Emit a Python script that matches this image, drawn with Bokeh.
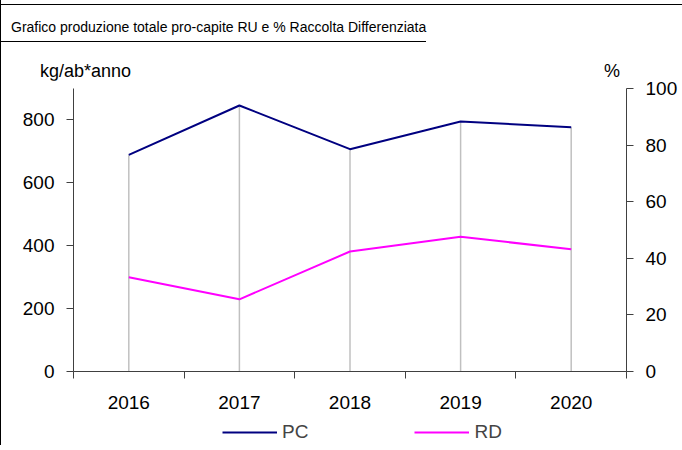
from bokeh.plotting import figure
from bokeh.models import (Range1d, LinearAxis, FixedTicker, Legend, LegendItem,
                          Div, ColumnDataSource)
from bokeh.layouts import column
from bokeh.embed import file_html
from bokeh.resources import INLINE

years = ["2016", "2017", "2018", "2019", "2020"]
pc = [689, 846, 707, 795, 777]
rd = [33.3, 25.5, 42.4, 47.6, 43.2]
left_ticks = [0, 200, 400, 600, 800]
right_ticks = [0, 20, 40, 60, 80, 100]

TITLE = "Grafico produzione totale pro-capite RU e % Raccolta Differenziata"
UNIT_L = "kg/ab*anno"
UNIT_R = "%"

FONT = "Liberation Sans"
AX = "#404040"
W = 681

xs = list(range(len(years)))
src = ColumnDataSource(dict(x=xs, pc=pc, rd=rd, zero=[0] * len(xs)))

# title box + unit labels (HTML text)
html = (
    '<div style="box-sizing:border-box;height:37px;border-bottom:1px solid black;'
    'padding:14px 0 0 10px;font-size:14px;line-height:normal;white-space:nowrap;">'
    + TITLE + '</div>'
    '<div style="position:relative;height:38px;font-size:18px;">'
    '<span style="position:absolute;left:39px;top:19px;line-height:normal;white-space:nowrap;">'
    + UNIT_L + '</span>'
    '<span style="position:absolute;left:603px;top:19px;line-height:normal;">'
    + UNIT_R + '</span></div>'
)
head = Div(text=html, width=W, height=76, margin=(4, 0, 0, 0),
           styles={"font-family": FONT, "color": "black",
                   "border-top": "1px solid black", "box-sizing": "border-box"})

# main chart
p = figure(width=W, height=337, output_backend="svg", toolbar_location=None,
           x_range=Range1d(-0.5, 4.5), y_range=Range1d(0, 900),
           min_border_left=72, min_border_right=56, min_border_top=8, min_border_bottom=46)
p.outline_line_color = None
p.grid.visible = False
p.extra_y_ranges = {"pct": Range1d(0, 100)}

p.yaxis.ticker = FixedTicker(ticks=left_ticks)
p.xaxis.ticker = FixedTicker(ticks=xs, minor_ticks=[i - 0.5 for i in range(len(xs) + 1)])
p.xaxis.major_label_overrides = {i: y for i, y in enumerate(years)}
p.xaxis.major_tick_out = 0
p.xaxis.major_tick_in = 0
p.xaxis.minor_tick_out = 7
p.xaxis.minor_tick_in = 0
p.xaxis.major_label_standoff = 17

right = LinearAxis(y_range_name="pct", ticker=FixedTicker(ticks=right_ticks))
p.add_layout(right, "right")

for ax in [p.xaxis[0], p.yaxis[0], right]:
    ax.axis_line_color = AX
    ax.major_tick_line_color = AX
    ax.minor_tick_line_color = AX
    ax.major_label_text_font = FONT
    ax.major_label_text_font_size = "19px"
    ax.major_label_text_color = "black"
for ax in [p.yaxis[0], right]:
    ax.major_tick_out = 7
    ax.major_tick_in = 0
    ax.minor_tick_out = 0
    ax.minor_tick_in = 0
    ax.major_label_standoff = 12

p.segment(x0="x", y0="zero", x1="x", y1="pc", source=src, line_color="#c0c0c0", line_width=1.5)
r_pc = p.line("x", "pc", source=src, line_color="#000080", line_width=2)
r_rd = p.line("x", "rd", source=src, y_range_name="pct", line_color="#ff00ff", line_width=2)

# legend strip below the chart (its lines lie outside its own view; only the legend shows)
lg = figure(width=W, height=28, output_backend="svg", toolbar_location=None,
            x_range=Range1d(-0.5, 4.5), y_range=Range1d(5000, 6000),
            x_axis_type=None, y_axis_type=None, min_border=0)
lg.outline_line_color = None
lg.grid.visible = False
l_pc = lg.line("x", "pc", source=src, line_color="#000080", line_width=2)
l_rd = lg.line("x", "rd", source=src, line_color="#ff00ff", line_width=2)
legend = Legend(items=[LegendItem(label="PC", renderers=[l_pc]),
                       LegendItem(label="RD", renderers=[l_rd])],
                orientation="horizontal", location=(149, 2),
                label_text_font=FONT, label_text_font_size="19px",
                glyph_width=55, label_standoff=5, spacing=106,
                padding=0, margin=0, border_line_color=None, background_fill_alpha=0)
lg.add_layout(legend, "center")

layout = column(head, p, lg, spacing=0, styles={"border-left": "1px solid black"})
open("out.html", "w").write(file_html(layout, INLINE))
